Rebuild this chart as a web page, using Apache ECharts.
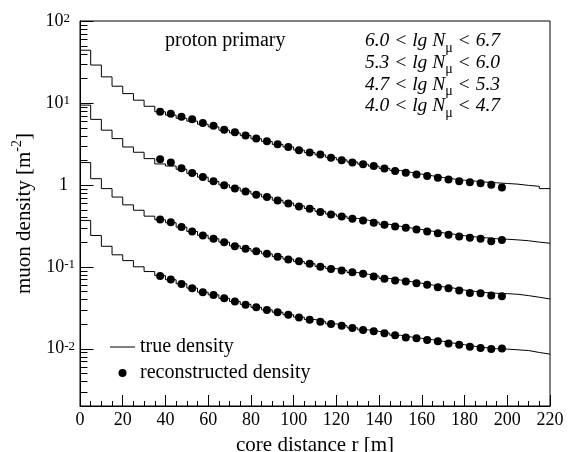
<!DOCTYPE html>
<html>
<head>
<meta charset="utf-8">
<script src="https://cdn.jsdelivr.net/npm/echarts@6/dist/echarts.min.js"></script>
<style>
  html, body { margin: 0; padding: 0; background: #fff; }
  #chart { width: 575px; height: 452px; }
</style>
</head>
<body>
<div id="chart"></div>
<script>
// lower edges of the 5 m histogram bins
const binStart = [0, 5, 10, 15, 20, 25, 30, 35, 40, 45, 50, 55, 60, 65, 70, 75, 80, 85, 90, 95,
  100, 105, 110, 115, 120, 125, 130, 135, 140, 145, 150, 155, 160, 165, 170, 175, 180, 185, 190, 195,
  200, 205, 210, 215];
const binEnd = 220;

// true density, one value per bin (6.0-6.7, 5.3-6.0, 4.7-5.3, 4.0-4.7)
const trueA = [44, 29, 20.8, 16, 13, 10.8, 9.1, 7.8, 7.1, 6.5, 6.0, 5.5, 5.1, 4.65, 4.3, 4.0,
  3.65, 3.38, 3.12, 2.9, 2.66, 2.48, 2.32, 2.16, 2.02, 1.9, 1.79, 1.69, 1.59, 1.5, 1.42, 1.35,
  1.29, 1.23, 1.18, 1.14, 1.11, 1.08, 1.06, 1.04, 1.02, 0.985, 0.96, 0.9];
const trueB = [9.4, 6.3, 4.65, 3.67, 2.9, 2.5, 2.09, 1.8, 1.7, 1.55, 1.38, 1.24, 1.1, 1.0, 0.92, 0.84,
  0.77, 0.71, 0.65, 0.6, 0.555, 0.515, 0.475, 0.44, 0.415, 0.39, 0.37, 0.35, 0.33, 0.312, 0.298, 0.285,
  0.272, 0.26, 0.25, 0.24, 0.232, 0.226, 0.22, 0.217, 0.213, 0.208, 0.2, 0.194];
const trueC = [1.87, 1.19, 0.9, 0.71, 0.57, 0.49, 0.415, 0.375, 0.345, 0.305, 0.27, 0.242, 0.22, 0.2, 0.18, 0.167,
  0.155, 0.144, 0.133, 0.124, 0.116, 0.109, 0.101, 0.095, 0.09, 0.085, 0.081, 0.077, 0.072, 0.069, 0.066, 0.063,
  0.06, 0.057, 0.055, 0.052, 0.05, 0.0485, 0.0475, 0.047, 0.0462, 0.0445, 0.0425, 0.0405];
const trueD = [0.368, 0.241, 0.178, 0.14, 0.119, 0.1, 0.0875, 0.078, 0.0695, 0.062, 0.055, 0.049, 0.0455, 0.0412, 0.0378, 0.0348,
  0.032, 0.0298, 0.0279, 0.026, 0.0243, 0.0227, 0.0215, 0.0201, 0.0191, 0.018, 0.017, 0.0163, 0.0155, 0.0146, 0.0139, 0.0134,
  0.0129, 0.0123, 0.0117, 0.0112, 0.0107, 0.0103, 0.01, 0.0099, 0.0097, 0.0095, 0.009, 0.0086];

// reconstructed density at bin centres
const dotX = [37.5, 42.5, 47.5, 52.5, 57.5, 62.5, 67.5, 72.5, 77.5, 82.5, 87.5, 92.5, 97.5, 102.5, 107.5, 112.5,
  117.5, 122.5, 127.5, 132.5, 137.5, 142.5, 147.5, 152.5, 157.5, 162.5, 167.5, 172.5, 177.5, 182.5, 187.5, 192.5, 197.5];
const recoA = [7.8, 7.4, 6.8, 6.3, 5.7, 5.25, 4.7, 4.4, 4.0, 3.67, 3.4, 3.13, 2.9, 2.64, 2.48, 2.34,
  2.15, 2.0, 1.88, 1.78, 1.7, 1.58, 1.48, 1.41, 1.34, 1.28, 1.22, 1.16, 1.11, 1.08, 1.05, 1.0, 0.93];
const recoB = [2.05, 1.87, 1.6, 1.4, 1.25, 1.11, 0.99, 0.9, 0.83, 0.76, 0.71, 0.645, 0.593, 0.546, 0.512, 0.465,
  0.435, 0.412, 0.386, 0.368, 0.345, 0.326, 0.31, 0.299, 0.286, 0.27, 0.257, 0.246, 0.234, 0.226, 0.22, 0.205, 0.213];
const recoC = [0.378, 0.35, 0.305, 0.27, 0.241, 0.22, 0.2, 0.178, 0.166, 0.155, 0.144, 0.133, 0.123, 0.117, 0.109, 0.1,
  0.094, 0.09, 0.0858, 0.082, 0.076, 0.0713, 0.068, 0.066, 0.063, 0.0602, 0.0562, 0.0547, 0.0512, 0.048, 0.0475, 0.0445, 0.0436];
const recoD = [0.077, 0.0698, 0.0618, 0.0547, 0.0489, 0.0454, 0.0412, 0.0376, 0.0345, 0.032, 0.0297, 0.0278, 0.026, 0.0241, 0.0226, 0.0214,
  0.02, 0.0191, 0.0179, 0.0169, 0.0163, 0.0154, 0.0146, 0.0137, 0.0134, 0.0128, 0.0123, 0.0116, 0.0112, 0.0106, 0.0102, 0.0099, 0.0101];

const rangeLabels = [
  ["6.0", "6.7"],
  ["5.3", "6.0"],
  ["4.7", "5.3"],
  ["4.0", "4.7"],
];
// y ticks of the log axis: decades and the 2..9 steps in between
const yMajorTicks = [0.01, 0.1, 1, 10, 100];
const yMinorTicks = [0.003, 0.004, 0.005, 0.006, 0.007, 0.008, 0.009,
  0.02, 0.03, 0.04, 0.05, 0.06, 0.07, 0.08, 0.09,
  0.2, 0.3, 0.4, 0.5, 0.6, 0.7, 0.8, 0.9,
  2, 3, 4, 5, 6, 7, 8, 9,
  20, 30, 40, 50, 60, 70, 80, 90];

const FONT = "Liberation Serif";

function histData(vals) {
  let d = binStart.map((x, i) => [x, vals[i]]);
  d.push([binEnd, vals[vals.length - 1]]);
  return d;
}
function dotData(vals) {
  return dotX.map((x, i) => [x, vals[i]]);
}

let series = [];
[trueA, trueB, trueC, trueD].forEach(function (v) {
  series.push({
    name: "true density",
    type: "line",
    step: "end",
    symbol: "none",
    showSymbol: false,
    lineStyle: { color: "#000", width: 1 },
    itemStyle: { color: "#000" },
    data: histData(v),
  });
});
[recoA, recoB, recoC, recoD].forEach(function (v) {
  series.push({
    name: "reconstructed density",
    type: "scatter",
    symbol: "circle",
    symbolSize: 8,
    itemStyle: { color: "#000", opacity: 1 },
    z: 3,
    data: dotData(v),
  });
});

// y axis tick marks, placed through the log axis
function tickItem(len) {
  return function (params, api) {
    let p = api.coord([0, api.value(1)]);
    let x = Math.round(p[0]) + 0.5;
    let y = Math.round(p[1]) + 0.5;
    return {
      type: "line",
      shape: { x1: x, y1: y, x2: x + len, y2: y },
      style: { stroke: "#000", lineWidth: 1 },
    };
  };
}
series.push({
  type: "custom",
  silent: true,
  clip: false,
  renderItem: tickItem(13),
  data: yMajorTicks.map((v) => [0, v]),
});
series.push({
  type: "custom",
  silent: true,
  clip: false,
  renderItem: tickItem(7),
  data: yMinorTicks.map((v) => [0, v]),
});

let graphics = [{
  type: "text",
  left: 165,
  top: 31,
  style: { text: "proton primary", font: "20px " + FONT, fill: "#000" },
}];
rangeLabels.forEach(function (r, i) {
  graphics.push({
    type: "text",
    right: 75,
    top: 31 + i * 21.7,
    style: {
      text: "{i|" + r[0] + " < lg N}{s|μ}{i| < " + r[1] + "}",
      fill: "#000",
      rich: {
        i: { fontFamily: FONT, fontStyle: "italic", fontSize: 19.5, lineHeight: 20, verticalAlign: "top" },
        s: { fontFamily: FONT, fontSize: 14, lineHeight: 14, padding: [10, 0, 0, 0], verticalAlign: "top" },
      },
    },
  });
});

let myChart = echarts.init(document.querySelector("#chart"));
let option = {
  animation: false,
  textStyle: { fontFamily: FONT, color: "#000" },
  grid: {
    left: 80,
    right: 25,
    top: 21,
    bottom: 46,
    containLabel: false,
    outerBoundsMode: "none",
    show: true,
    borderColor: "#000",
    borderWidth: 1,
  },
  legend: {
    left: 110,
    top: 337,
    orient: "vertical",
    padding: 0,
    itemWidth: 25,
    itemHeight: 8,
    itemGap: 6,
    textStyle: { fontFamily: FONT, fontSize: 20, color: "#000" },
    data: [
      { name: "true density", icon: "path://M0,0 H25 V1 H0 Z", itemStyle: { color: "#000" } },
      { name: "reconstructed density", icon: "circle", itemStyle: { color: "#000" } },
    ],
  },
  xAxis: {
    type: "value",
    min: 0,
    max: 220,
    interval: 20,
    name: "core distance r [m]",
    nameLocation: "middle",
    nameGap: 29,
    nameTextStyle: { fontFamily: FONT, fontSize: 21, color: "#000" },
    axisLine: { show: true, lineStyle: { color: "#000", width: 1 } },
    axisTick: { show: true, inside: true, length: 11, lineStyle: { color: "#000" } },
    minorTick: { show: true, splitNumber: 4, length: 5, lineStyle: { color: "#000" } },
    axisLabel: { fontFamily: FONT, fontSize: 18, color: "#000", margin: 5 },
    splitLine: { show: false },
  },
  yAxis: {
    type: "log",
    min: 0.002,
    max: 100,
    name: "{n|muon density [m}{s|-2}{n|]}",
    nameLocation: "middle",
    nameGap: 18,
    nameTextStyle: {
      rich: {
        n: { fontFamily: FONT, fontSize: 21, color: "#000", lineHeight: 24, verticalAlign: "bottom" },
        s: { fontFamily: FONT, fontSize: 14, color: "#000", lineHeight: 14, verticalAlign: "top" },
      },
    },
    axisLine: { show: true, lineStyle: { color: "#000", width: 1 } },
    axisTick: { show: false },
    axisLabel: {
      margin: 5,
      formatter: function (v) {
        let lg = Math.log10(v);
        let e = Math.round(lg);
        if (Math.abs(lg - e) > 1e-6) return "";
        if (e === 0) return "{one|1}";
        return "{b|10}{" + (e < 0 ? "s" : "sp") + "|" + e + "}";
      },
      rich: {
        b: { fontFamily: FONT, fontSize: 18, color: "#000", lineHeight: 18, padding: [4, 0, 0, 0], verticalAlign: "bottom" },
        one: { fontFamily: FONT, fontSize: 18, color: "#000", lineHeight: 18, padding: [4, 7, 0, 0], verticalAlign: "bottom" },
        s: { fontFamily: FONT, fontSize: 13, color: "#000", lineHeight: 13, verticalAlign: "top" },
        sp: { fontFamily: FONT, fontSize: 13, color: "#000", lineHeight: 13, padding: [0, 5, 0, 0], verticalAlign: "top" },
      },
    },
    splitLine: { show: false },
  },
  graphic: graphics,
  series: series,
};
myChart.setOption(option);
</script>
</body>
</html>
